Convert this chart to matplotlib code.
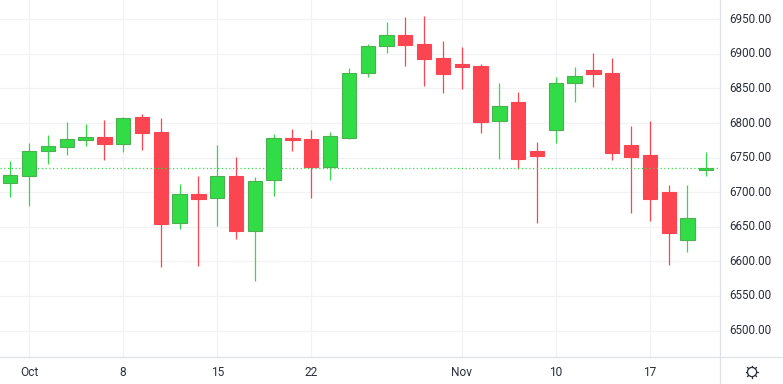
"""Daily candlestick chart, Oct-Nov, with last-price line."""
import matplotlib

matplotlib.use("Agg")
import matplotlib.pyplot as plt
from matplotlib.lines import Line2D
from matplotlib.patches import Circle
from matplotlib.transforms import ScaledTranslation

plt.rcParams["font.family"] = ["Roboto", "DejaVu Sans"]

# session index runs 0..37, tick positions below are in that index
opens = [6714, 6724, 6759, 6766, 6776, 6780, 6769, 6809, 6787, 6655,
         6697.5, 6691, 6723.6, 6644.5, 6717, 6778.5, 6777, 6737, 6779, 6873,
         6912, 6927, 6914, 6894, 6885, 6882.5, 6803.5, 6830.5, 6760, 6790.5,
         6858.5, 6877, 6872, 6768, 6754, 6700, 6631.5, 6732]
closes = [6724.5, 6759, 6767, 6777, 6780, 6770, 6807, 6786, 6654, 6697,
          6690, 6723, 6644.5, 6716, 6778, 6776, 6737, 6781, 6872, 6912,
          6927, 6913, 6893, 6871, 6881, 6802, 6824, 6748, 6752.5, 6858,
          6868, 6871, 6757, 6751, 6690, 6641, 6663, 6735]
highs = [6745, 6771, 6783, 6802, 6799, 6804.5, 6809, 6813, 6807, 6712,
         6724, 6768, 6751, 6722, 6784, 6791.5, 6790, 6787, 6880, 6914,
         6946, 6953, 6955, 6919, 6910, 6885, 6858, 6845, 6773, 6867,
         6881, 6901, 6894, 6796, 6803, 6710.5, 6710.5, 6758]
lows = [6693, 6680, 6741, 6754, 6767, 6747, 6758, 6761, 6592, 6647,
        6593.5, 6651, 6632.5, 6572, 6695, 6760, 6692, 6718, 6777, 6867,
        6901, 6882.5, 6854, 6843.5, 6849, 6786, 6748, 6734, 6656, 6771,
        6830.5, 6852, 6747, 6670, 6658.5, 6595, 6614, 6723.5]
last_price = 6734.6

x_ticks = [1, 6, 11, 16, 24, 29, 34]
x_labels = ["Oct", "8", "15", "22", "Nov", "10", "17"]
y_ticks = [6500, 6550, 6600, 6650, 6700, 6750, 6800, 6850, 6900, 6950]

GREEN = "#32dc46"
GREEN_EDGE = "#4caf50"
RED = "#fb4551"
GRID = "#f1f2f5"
BORDER = "#dfe1e6"
TEXT = "#2a2e39"

W, H = 783, 384
PANE_W, PANE_H = 720, 357.3

fig = plt.figure(figsize=(W / 100, H / 100), dpi=100, facecolor="white")
ax = fig.add_axes([0, 1 - PANE_H / H, PANE_W / W, PANE_H / H])

xs = list(range(len(opens)))
for x, o, c, hi, lo in zip(xs, opens, closes, highs, lows):
    up = c >= o
    col = GREEN if up else RED
    ax.vlines(x, lo, hi, color=col, lw=0.9, zorder=3)
    ax.bar(x, abs(c - o), bottom=min(o, c), width=0.76, color=col,
           edgecolor=GREEN_EDGE if up else RED, linewidth=0.8, zorder=4)

ax.plot([-0.55, 37.6], [last_price, last_price], color=GREEN, lw=0.9,
        ls=(0, (1, 2)), zorder=5)

ax.set_xlim(-0.548, 37.73)
ax.set_ylim(6461.3, 6977.9)
ax.set_xticks(x_ticks)
ax.set_xticklabels(x_labels)
ax.set_yticks(y_ticks)
ax.set_yticklabels([f"{v:.2f}" for v in y_ticks])
ax.yaxis.tick_right()
ax.tick_params(axis="y", length=0, pad=7, labelsize=8.4, labelcolor=TEXT)
ax.tick_params(axis="x", length=0, pad=6.5, labelsize=8.6, labelcolor=TEXT)
# nudge price labels up about 1.5 px, they sit just above their grid line
up_shift = ScaledTranslation(0, 1.5 / 100, fig.dpi_scale_trans)
for lab in ax.get_yticklabels():
    lab.set_transform(lab.get_transform() + up_shift)
ax.grid(True, color=GRID, lw=0.9, zorder=0)
ax.set_axisbelow(True)
for s in ax.spines.values():
    s.set_visible(False)

# pane borders run through the price and time scales
fig.add_artist(Line2D([0, 1], [1 - PANE_H / H] * 2, color=BORDER, lw=0.9))
fig.add_artist(Line2D([PANE_W / W] * 2, [0, 1], color=BORDER, lw=0.9))

# settings icon, bottom right
cx, cy = 752, 372
ico = fig.add_axes([0, 0, 1, 1], facecolor="none")
ico.set_xlim(0, W)
ico.set_ylim(H, 0)
ico.axis("off")
ico.add_patch(Circle((cx, cy), 4.6, fill=False, ec=TEXT, lw=0.9))
for dx, dy in [(0, -1), (0, 1), (-1, 0), (1, 0), (-.7, -.7), (.7, -.7), (-.7, .7), (.7, .7)]:
    ico.plot([cx + 4.6 * dx, cx + 6.4 * dx], [cy + 4.6 * dy, cy + 6.4 * dy], color=TEXT, lw=0.9)

fig.savefig("out.png", dpi=100)
